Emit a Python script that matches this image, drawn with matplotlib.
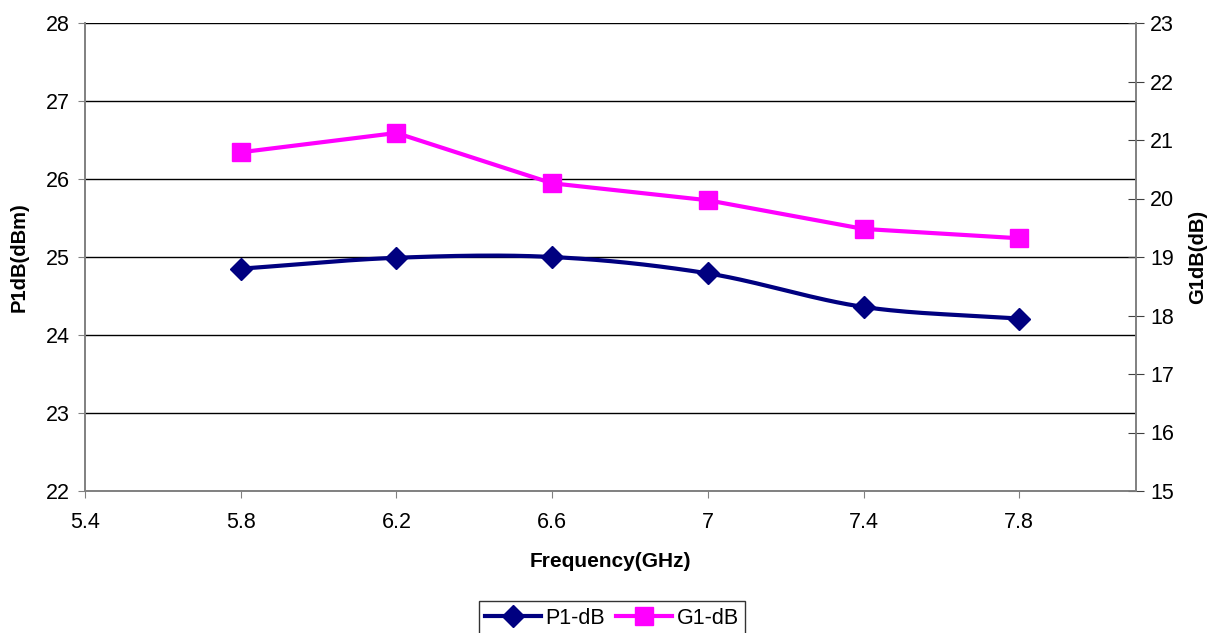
import numpy as np
import matplotlib
matplotlib.use("Agg")
import matplotlib.pyplot as plt

plt.rcParams['font.family'] = ['Liberation Sans', 'DejaVu Sans']

freq = [5.8, 6.2, 6.6, 7.0, 7.4, 7.8]
p1db = [24.85, 24.99, 25.0, 24.79, 24.36, 24.21]
g1db = [20.79, 21.12, 20.26, 19.97, 19.48, 19.32]
xticks = [5.4, 5.8, 6.2, 6.6, 7.0, 7.4, 7.8]
xtick_labels = ["5.4", "5.8", "6.2", "6.6", "7", "7.4", "7.8"]


def smooth(x, y, n=30):
    # Excel-like smoothed line (Catmull-Rom through the points)
    x = np.asarray(x, float)
    y = np.asarray(y, float)
    px = np.concatenate([[2 * x[0] - x[1]], x, [2 * x[-1] - x[-2]]])
    py = np.concatenate([[2 * y[0] - y[1]], y, [2 * y[-1] - y[-2]]])
    xs, ys = [], []
    for i in range(1, len(px) - 2):
        t = np.linspace(0, 1, n)
        for arr, out in ((px, xs), (py, ys)):
            p0, p1, p2, p3 = arr[i - 1], arr[i], arr[i + 1], arr[i + 2]
            out.extend(0.5 * ((2 * p1) + (-p0 + p2) * t
                              + (2 * p0 - 5 * p1 + 4 * p2 - p3) * t ** 2
                              + (-p0 + 3 * p1 - 3 * p2 + p3) * t ** 3))
    return xs, ys


fig = plt.figure(figsize=(12.18, 6.33), dpi=100)
ax = fig.add_axes([85 / 1218, 142 / 633, 1051 / 1218, 468 / 633])
ax2 = ax.twinx()

navy = "#000080"
mag = "#FF00FF"

sx, sy = smooth(freq, p1db)
ax.plot(sx, sy, color=navy, lw=3, zorder=3)
ax.plot(freq, p1db, ls="none", marker="D", ms=11, color=navy, zorder=4)
ax2.plot(freq, g1db, color=mag, lw=3, marker="s", ms=13.5, zorder=4)

ax.set_xlim(5.4, 8.1)
ax.set_ylim(22, 28)
ax2.set_ylim(15, 23)
ax.set_xticks(xticks)
ax.set_xticklabels(xtick_labels)
ax.set_yticks(range(22, 29))
ax2.set_yticks(range(15, 24))

ax.grid(axis="y", color="black", lw=1)
ax.set_axisbelow(True)
for a in (ax, ax2):
    a.spines["top"].set_visible(False)
    for s in ("left", "right", "bottom"):
        a.spines[s].set_color("#808080")
        a.spines[s].set_linewidth(1.2)
ax.tick_params(axis="both", labelsize=15.5, length=5, color="#808080", pad=6)
ax.tick_params(axis="x", pad=10)
ax2.tick_params(axis="y", labelsize=15.5, length=12, direction="inout", color="#404040", pad=4)

ax.set_xlabel("Frequency(GHz)", fontsize=15, fontweight="bold", labelpad=14)
ax.set_ylabel("P1dB(dBm)", fontsize=14.5, fontweight="bold", labelpad=12)
ax2.set_ylabel("G1dB(dB)", fontsize=14.5, fontweight="bold", labelpad=10)

h1 = plt.Line2D([], [], color=navy, lw=3, marker="D", ms=11)
h2 = plt.Line2D([], [], color=mag, lw=3, marker="s", ms=13.5)
leg = fig.legend([h1, h2], ["P1-dB", "G1-dB"], loc="center", bbox_to_anchor=(612 / 1218, 15 / 633),
                 ncol=2, fontsize=15.5, frameon=True, fancybox=False, edgecolor="black",
                 handlelength=2.6, columnspacing=0.5, handletextpad=0.2, borderpad=0.3)
leg.get_frame().set_linewidth(1)

fig.savefig("out.png", dpi=100)
